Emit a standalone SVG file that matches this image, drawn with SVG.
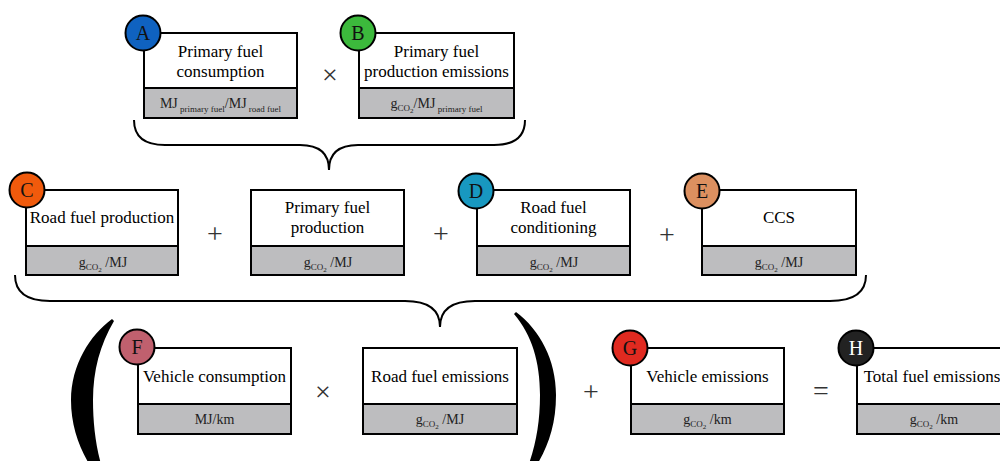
<svg xmlns="http://www.w3.org/2000/svg" width="1000" height="461" viewBox="0 0 1000 461" font-family="'Liberation Serif', 'Times New Roman', 'DejaVu Serif', serif">
<style>
.top{fill:#fff;stroke:#000;stroke-width:2}
.bot{fill:#bdbdbf;stroke:#000;stroke-width:2}
.t{font-size:17px;fill:#000;text-anchor:middle}
.u{font-size:14px;fill:#222;text-anchor:middle}
.s{font-size:9px}
.s2{font-size:7px}
.c{stroke:#000;stroke-width:2}
.l{font-size:20px;fill:#111;text-anchor:middle}
.op{font-size:28px;fill:#333;text-anchor:middle}
.br{fill:none;stroke:#000;stroke-width:2}
</style>
<g id="connectors">
<path class="br" d="M134,120 Q134,145 165,145 L300,145 Q329,145 329,170 Q329,145 358,145 L494,145 Q525,145 525,120"/>
<path class="br" d="M15,275 Q15,301 50,301 L405,301 Q440,301 440,327 Q440,301 475,301 L830,301 Q866,301 866,275"/>
<path fill="#000" d="M112,319 C90,335 71,365 71,400 C71,430 82,455 98,478 L104,474 C96,450 93,425 93,400 C93,370 100,345 114,321 Z"/>
<path fill="#000" d="M516,312 C540,330 556,360 556,395 C556,430 545,455 528,478 L525,474 C535,450 540,425 540,395 C540,362 532,335 514,314 Z"/>
<text class="op" x="330" y="84">×</text>
<text class="op" x="215" y="243">+</text>
<text class="op" x="441" y="243">+</text>
<text class="op" x="667" y="244">+</text>
<text class="op" x="323" y="401">×</text>
<text class="op" x="591" y="401">+</text>
<text class="op" x="821" y="400">=</text>
</g>
<g id="A">
<rect class="top" x="144" y="33" width="153" height="55"/>
<rect class="bot" x="144" y="88" width="153" height="30"/>
<text class="t" x="220.5" y="57">Primary fuel</text>
<text class="t" x="220.5" y="77">consumption</text>
<text class="u" x="220.5" y="108">MJ<tspan class="s" dy="4"> primary fuel</tspan><tspan dy="-4">/MJ</tspan><tspan class="s" dy="4"> road fuel</tspan></text>
<circle class="c" cx="143" cy="33" r="17.5" fill="#0f62c0"/>
<text class="l" x="143" y="40">A</text>
</g>
<g id="B">
<rect class="top" x="359" y="33" width="155" height="55"/>
<rect class="bot" x="359" y="88" width="155" height="30"/>
<text class="t" x="436.5" y="57">Primary fuel</text>
<text class="t" x="436.5" y="77">production emissions</text>
<text class="u" x="436.5" y="108">g<tspan class="s" dy="3">CO</tspan><tspan class="s2" dy="2">2</tspan><tspan dy="-5">/MJ</tspan><tspan class="s" dy="4"> primary fuel</tspan></text>
<circle class="c" cx="358" cy="33" r="17.5" fill="#3cb93c"/>
<text class="l" x="358" y="40">B</text>
</g>
<g id="C">
<rect class="top" x="26" y="190" width="152" height="56"/>
<rect class="bot" x="26" y="246" width="152" height="29"/>
<text class="t" x="102" y="223">Road fuel production</text>
<text class="u" x="103" y="267">g<tspan class="s" dy="3">CO</tspan><tspan class="s2" dy="2">2</tspan><tspan dy="-5"> /MJ</tspan></text>
<circle class="c" cx="27" cy="190" r="17.5" fill="#f05a0c"/>
<text class="l" x="27" y="197">C</text>
</g>
<g id="P">
<rect class="top" x="251" y="190" width="153" height="56"/>
<rect class="bot" x="251" y="246" width="153" height="29"/>
<text class="t" x="327.5" y="213">Primary fuel</text>
<text class="t" x="327.5" y="233">production</text>
<text class="u" x="328" y="267">g<tspan class="s" dy="3">CO</tspan><tspan class="s2" dy="2">2</tspan><tspan dy="-5"> /MJ</tspan></text>
</g>
<g id="D">
<rect class="top" x="477" y="190" width="153" height="56"/>
<rect class="bot" x="477" y="246" width="153" height="29"/>
<text class="t" x="553.5" y="213">Road fuel</text>
<text class="t" x="553.5" y="233">conditioning</text>
<text class="u" x="554" y="267">g<tspan class="s" dy="3">CO</tspan><tspan class="s2" dy="2">2</tspan><tspan dy="-5"> /MJ</tspan></text>
<circle class="c" cx="476" cy="191" r="17.5" fill="#1898c0"/>
<text class="l" x="476" y="198">D</text>
</g>
<g id="E">
<rect class="top" x="702" y="190" width="154" height="56"/>
<rect class="bot" x="702" y="246" width="154" height="29"/>
<text class="t" x="779" y="223">CCS</text>
<text class="u" x="779" y="267">g<tspan class="s" dy="3">CO</tspan><tspan class="s2" dy="2">2</tspan><tspan dy="-5"> /MJ</tspan></text>
<circle class="c" cx="702" cy="191" r="17.5" fill="#dc9060"/>
<text class="l" x="702" y="198">E</text>
</g>
<g id="F">
<rect class="top" x="138" y="348" width="153" height="56"/>
<rect class="bot" x="138" y="404" width="153" height="30"/>
<text class="t" x="214.5" y="382">Vehicle consumption</text>
<text class="u" x="214.5" y="424">MJ/km</text>
<circle class="c" cx="137" cy="347" r="17.5" fill="#c0606e"/>
<text class="l" x="137" y="354">F</text>
</g>
<g id="R">
<rect class="top" x="363" y="348" width="154" height="56"/>
<rect class="bot" x="363" y="404" width="154" height="30"/>
<text class="t" x="440" y="382">Road fuel emissions</text>
<text class="u" x="440" y="424">g<tspan class="s" dy="3">CO</tspan><tspan class="s2" dy="2">2</tspan><tspan dy="-5"> /MJ</tspan></text>
</g>
<g id="G">
<rect class="top" x="631" y="348" width="153" height="56"/>
<rect class="bot" x="631" y="404" width="153" height="30"/>
<text class="t" x="707.5" y="382">Vehicle emissions</text>
<text class="u" x="707.5" y="424">g<tspan class="s" dy="3">CO</tspan><tspan class="s2" dy="2">2</tspan><tspan dy="-5"> /km</tspan></text>
<circle class="c" cx="630" cy="348" r="17.5" fill="#e02a20"/>
<text class="l" x="630" y="355">G</text>
</g>
<g id="H">
<rect class="top" x="857" y="348" width="160" height="56"/>
<rect class="bot" x="857" y="404" width="160" height="30"/>
<text class="t" x="932" y="382">Total fuel emissions</text>
<text class="u" x="934" y="424">g<tspan class="s" dy="3">CO</tspan><tspan class="s2" dy="2">2</tspan><tspan dy="-5"> /km</tspan></text>
<circle class="c" cx="856" cy="348" r="17.5" fill="#222"/>
<text class="l" x="856" y="355" style="fill:#fff">H</text>
</g>
</svg>
